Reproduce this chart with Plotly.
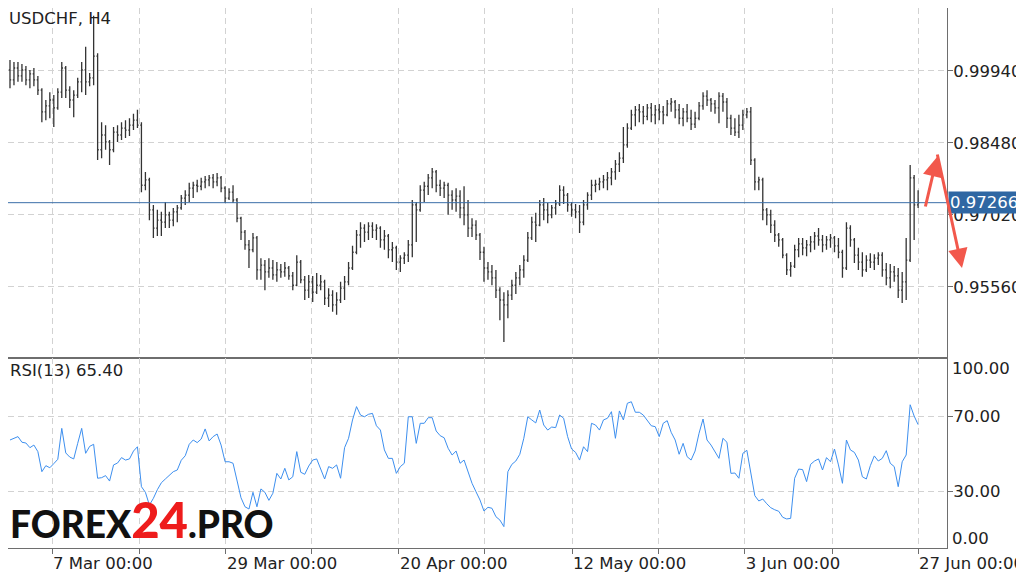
"""USDCHF H4 chart with RSI(13) panel"""

import plotly.graph_objects as go

# H4 bars (oldest first)
opens = [
    0.9996, 0.9976, 1.0000, 0.9984, 0.9996, 0.9976, 0.9988, 0.9976, 0.9955, 0.9911,
    0.9923, 0.9935, 0.9919, 0.9951, 1.0000, 0.9955, 0.9935, 0.9945, 0.9972, 0.9996,
    0.9972, 0.9980, 1.0024, 0.9834, 0.9864, 0.9850, 0.9834, 0.9870, 0.9864, 0.9878,
    0.9874, 0.9884, 0.9894, 0.9884, 0.9762, 0.9773, 0.9712, 0.9675, 0.9691, 0.9687,
    0.9702, 0.9691, 0.9708, 0.9716, 0.9736, 0.9742, 0.9756, 0.9762, 0.9760, 0.9769,
    0.9773, 0.9777, 0.9769, 0.9777, 0.9756, 0.9736, 0.9748, 0.9732, 0.9695, 0.9667,
    0.9641, 0.9631, 0.9655, 0.9590, 0.9600, 0.9586, 0.9594, 0.9580, 0.9590, 0.9586,
    0.9594, 0.9578, 0.9559, 0.9606, 0.9570, 0.9549, 0.9566, 0.9545, 0.9559, 0.9566,
    0.9533, 0.9539, 0.9519, 0.9529, 0.9553, 0.9566, 0.9594, 0.9626, 0.9661, 0.9675,
    0.9667, 0.9679, 0.9671, 0.9675, 0.9651, 0.9659, 0.9631, 0.9635, 0.9606, 0.9614,
    0.9620, 0.9641, 0.9722, 0.9712, 0.9752, 0.9760, 0.9777, 0.9789, 0.9762, 0.9756,
    0.9762, 0.9742, 0.9732, 0.9740, 0.9716, 0.9702, 0.9675, 0.9681, 0.9661, 0.9626,
    0.9594, 0.9586, 0.9574, 0.9549, 0.9529, 0.9519, 0.9539, 0.9559, 0.9574, 0.9590,
    0.9610, 0.9655, 0.9687, 0.9681, 0.9722, 0.9712, 0.9702, 0.9716, 0.9724, 0.9752,
    0.9742, 0.9722, 0.9712, 0.9708, 0.9687, 0.9722, 0.9742, 0.9762, 0.9764, 0.9769,
    0.9773, 0.9777, 0.9789, 0.9805, 0.9817, 0.9844, 0.9878, 0.9905, 0.9915, 0.9911,
    0.9902, 0.9919, 0.9905, 0.9915, 0.9911, 0.9905, 0.9927, 0.9931, 0.9915, 0.9898,
    0.9911, 0.9898, 0.9886, 0.9898, 0.9923, 0.9943, 0.9935, 0.9927, 0.9919, 0.9943,
    0.9931, 0.9898, 0.9878, 0.9870, 0.9884, 0.9905, 0.9911, 0.9813, 0.9769, 0.9773,
    0.9712, 0.9702, 0.9681, 0.9661, 0.9651, 0.9620, 0.9590, 0.9598, 0.9631, 0.9643,
    0.9635, 0.9641, 0.9647, 0.9659, 0.9651, 0.9641, 0.9651, 0.9655, 0.9639, 0.9626,
    0.9594, 0.9675, 0.9651, 0.9620, 0.9606, 0.9590, 0.9610, 0.9606, 0.9614, 0.9620,
    0.9590, 0.9574, 0.9586, 0.9578, 0.9549, 0.9566, 0.9610, 0.9777, 0.9722,
]
highs = [
    1.0016, 1.0012, 1.0012, 1.0008, 1.0004, 0.9996, 1.0000, 0.9984, 0.9959, 0.9935,
    0.9951, 0.9945, 0.9959, 1.0012, 1.0004, 0.9963, 0.9955, 0.9980, 1.0012, 1.0043,
    0.9990, 1.0106, 1.0030, 0.9890, 0.9884, 0.9854, 0.9880, 0.9884, 0.9890, 0.9894,
    0.9898, 0.9907, 0.9915, 0.9890, 0.9789, 0.9777, 0.9722, 0.9712, 0.9708, 0.9728,
    0.9708, 0.9716, 0.9722, 0.9742, 0.9752, 0.9767, 0.9769, 0.9773, 0.9777, 0.9781,
    0.9783, 0.9785, 0.9787, 0.9781, 0.9760, 0.9756, 0.9762, 0.9736, 0.9698, 0.9671,
    0.9651, 0.9665, 0.9659, 0.9614, 0.9610, 0.9614, 0.9610, 0.9606, 0.9602, 0.9606,
    0.9598, 0.9586, 0.9620, 0.9610, 0.9578, 0.9580, 0.9578, 0.9584, 0.9580, 0.9570,
    0.9553, 0.9549, 0.9545, 0.9566, 0.9578, 0.9606, 0.9639, 0.9671, 0.9687, 0.9683,
    0.9687, 0.9687, 0.9683, 0.9679, 0.9671, 0.9663, 0.9647, 0.9639, 0.9620, 0.9626,
    0.9651, 0.9732, 0.9728, 0.9762, 0.9769, 0.9785, 0.9797, 0.9793, 0.9773, 0.9769,
    0.9767, 0.9752, 0.9756, 0.9752, 0.9760, 0.9732, 0.9695, 0.9691, 0.9665, 0.9637,
    0.9606, 0.9600, 0.9590, 0.9555, 0.9545, 0.9549, 0.9570, 0.9586, 0.9600, 0.9620,
    0.9667, 0.9698, 0.9706, 0.9732, 0.9736, 0.9726, 0.9722, 0.9732, 0.9762, 0.9760,
    0.9746, 0.9728, 0.9724, 0.9722, 0.9732, 0.9748, 0.9773, 0.9773, 0.9777, 0.9783,
    0.9789, 0.9797, 0.9813, 0.9829, 0.9880, 0.9888, 0.9915, 0.9923, 0.9927, 0.9923,
    0.9927, 0.9929, 0.9925, 0.9927, 0.9923, 0.9935, 0.9939, 0.9935, 0.9927, 0.9919,
    0.9927, 0.9915, 0.9911, 0.9931, 0.9951, 0.9955, 0.9939, 0.9935, 0.9951, 0.9949,
    0.9939, 0.9905, 0.9898, 0.9905, 0.9915, 0.9919, 0.9921, 0.9817, 0.9779, 0.9777,
    0.9716, 0.9712, 0.9691, 0.9665, 0.9655, 0.9624, 0.9606, 0.9641, 0.9655, 0.9655,
    0.9651, 0.9659, 0.9667, 0.9675, 0.9661, 0.9659, 0.9663, 0.9659, 0.9655, 0.9631,
    0.9687, 0.9681, 0.9655, 0.9635, 0.9626, 0.9620, 0.9624, 0.9622, 0.9626, 0.9626,
    0.9604, 0.9602, 0.9598, 0.9594, 0.9586, 0.9655, 0.9803, 0.9783, 0.9752,
]
lows = [
    0.9959, 0.9965, 0.9972, 0.9972, 0.9965, 0.9959, 0.9963, 0.9945, 0.9890, 0.9894,
    0.9898, 0.9880, 0.9915, 0.9939, 0.9939, 0.9919, 0.9900, 0.9939, 0.9951, 0.9945,
    0.9963, 0.9965, 0.9813, 0.9817, 0.9834, 0.9803, 0.9829, 0.9850, 0.9854, 0.9858,
    0.9862, 0.9874, 0.9878, 0.9748, 0.9752, 0.9691, 0.9655, 0.9659, 0.9659, 0.9675,
    0.9675, 0.9679, 0.9687, 0.9712, 0.9722, 0.9728, 0.9736, 0.9748, 0.9752, 0.9756,
    0.9760, 0.9756, 0.9760, 0.9748, 0.9726, 0.9732, 0.9726, 0.9687, 0.9651, 0.9631,
    0.9594, 0.9626, 0.9570, 0.9570, 0.9549, 0.9574, 0.9570, 0.9566, 0.9574, 0.9576,
    0.9570, 0.9549, 0.9557, 0.9563, 0.9529, 0.9533, 0.9525, 0.9541, 0.9549, 0.9519,
    0.9515, 0.9505, 0.9499, 0.9523, 0.9529, 0.9559, 0.9590, 0.9622, 0.9635, 0.9647,
    0.9651, 0.9655, 0.9651, 0.9635, 0.9631, 0.9614, 0.9606, 0.9590, 0.9586, 0.9602,
    0.9606, 0.9616, 0.9647, 0.9708, 0.9728, 0.9742, 0.9756, 0.9748, 0.9740, 0.9736,
    0.9702, 0.9712, 0.9708, 0.9695, 0.9681, 0.9657, 0.9657, 0.9651, 0.9610, 0.9566,
    0.9570, 0.9559, 0.9533, 0.9488, 0.9444, 0.9492, 0.9529, 0.9541, 0.9559, 0.9574,
    0.9606, 0.9651, 0.9647, 0.9679, 0.9691, 0.9685, 0.9695, 0.9702, 0.9720, 0.9724,
    0.9708, 0.9698, 0.9695, 0.9665, 0.9681, 0.9712, 0.9732, 0.9748, 0.9752, 0.9756,
    0.9752, 0.9762, 0.9773, 0.9789, 0.9807, 0.9838, 0.9874, 0.9882, 0.9890, 0.9886,
    0.9894, 0.9890, 0.9886, 0.9894, 0.9886, 0.9902, 0.9911, 0.9898, 0.9886, 0.9882,
    0.9890, 0.9874, 0.9878, 0.9894, 0.9915, 0.9923, 0.9911, 0.9907, 0.9888, 0.9911,
    0.9878, 0.9864, 0.9862, 0.9858, 0.9874, 0.9898, 0.9803, 0.9752, 0.9752, 0.9691,
    0.9681, 0.9665, 0.9647, 0.9637, 0.9614, 0.9580, 0.9576, 0.9594, 0.9616, 0.9620,
    0.9618, 0.9626, 0.9631, 0.9639, 0.9626, 0.9631, 0.9635, 0.9626, 0.9614, 0.9574,
    0.9590, 0.9637, 0.9604, 0.9590, 0.9576, 0.9586, 0.9594, 0.9590, 0.9600, 0.9576,
    0.9559, 0.9553, 0.9566, 0.9533, 0.9523, 0.9529, 0.9606, 0.9651, 0.9716,
]
closes = [
    0.9976, 1.0000, 0.9984, 0.9996, 0.9976, 0.9988, 0.9976, 0.9955, 0.9911, 0.9923,
    0.9935, 0.9919, 0.9951, 1.0000, 0.9955, 0.9935, 0.9945, 0.9972, 0.9996, 0.9972,
    0.9980, 1.0024, 0.9834, 0.9864, 0.9850, 0.9834, 0.9870, 0.9864, 0.9878, 0.9874,
    0.9884, 0.9894, 0.9884, 0.9762, 0.9773, 0.9712, 0.9675, 0.9691, 0.9687, 0.9702,
    0.9691, 0.9708, 0.9716, 0.9736, 0.9742, 0.9756, 0.9762, 0.9760, 0.9769, 0.9773,
    0.9777, 0.9769, 0.9777, 0.9756, 0.9736, 0.9748, 0.9732, 0.9695, 0.9667, 0.9641,
    0.9631, 0.9655, 0.9590, 0.9600, 0.9586, 0.9594, 0.9580, 0.9590, 0.9586, 0.9594,
    0.9578, 0.9559, 0.9606, 0.9570, 0.9549, 0.9566, 0.9545, 0.9559, 0.9566, 0.9533,
    0.9539, 0.9519, 0.9529, 0.9553, 0.9566, 0.9594, 0.9626, 0.9661, 0.9675, 0.9667,
    0.9679, 0.9671, 0.9675, 0.9651, 0.9659, 0.9631, 0.9635, 0.9606, 0.9614, 0.9620,
    0.9641, 0.9722, 0.9712, 0.9752, 0.9760, 0.9777, 0.9789, 0.9762, 0.9756, 0.9762,
    0.9742, 0.9732, 0.9740, 0.9716, 0.9702, 0.9675, 0.9681, 0.9661, 0.9626, 0.9594,
    0.9586, 0.9574, 0.9549, 0.9529, 0.9519, 0.9539, 0.9559, 0.9574, 0.9590, 0.9610,
    0.9655, 0.9687, 0.9681, 0.9722, 0.9712, 0.9702, 0.9716, 0.9724, 0.9752, 0.9742,
    0.9722, 0.9712, 0.9708, 0.9687, 0.9722, 0.9742, 0.9762, 0.9764, 0.9769, 0.9773,
    0.9777, 0.9789, 0.9805, 0.9817, 0.9844, 0.9878, 0.9905, 0.9915, 0.9911, 0.9902,
    0.9919, 0.9905, 0.9915, 0.9911, 0.9905, 0.9927, 0.9931, 0.9915, 0.9898, 0.9911,
    0.9898, 0.9886, 0.9898, 0.9923, 0.9943, 0.9935, 0.9927, 0.9919, 0.9943, 0.9931,
    0.9898, 0.9878, 0.9870, 0.9884, 0.9905, 0.9911, 0.9813, 0.9769, 0.9773, 0.9712,
    0.9702, 0.9681, 0.9661, 0.9651, 0.9620, 0.9590, 0.9598, 0.9631, 0.9643, 0.9635,
    0.9641, 0.9647, 0.9659, 0.9651, 0.9641, 0.9651, 0.9655, 0.9639, 0.9626, 0.9594,
    0.9675, 0.9651, 0.9620, 0.9606, 0.9590, 0.9610, 0.9606, 0.9614, 0.9620, 0.9590,
    0.9574, 0.9586, 0.9578, 0.9549, 0.9566, 0.9610, 0.9777, 0.9722, 0.97266,
]

# RSI(13), one value per bar
rsi = [
    57.2, 58.1, 59.0, 56.0, 55.6, 53.1, 54.5, 51.0, 40.3, 43.5,
    42.4, 44.6, 46.9, 63.4, 50.3, 48.1, 47.1, 55.4, 63.4, 50.1,
    53.8, 54.9, 36.8, 37.1, 38.2, 35.3, 43.9, 44.9, 47.8, 46.5,
    47.1, 51.3, 53.6, 32.3, 29.3, 22.5, 26.1, 30.7, 34.4, 36.4,
    38.2, 40.3, 41.2, 46.4, 48.8, 54.9, 57.2, 55.8, 57.7, 63.1,
    56.7, 59.0, 60.4, 54.5, 45.6, 45.6, 44.8, 35.3, 26.4, 21.6,
    20.4, 29.3, 21.6, 31.1, 29.3, 25.0, 28.8, 39.4, 36.4, 42.1,
    35.9, 37.6, 51.0, 40.0, 38.9, 43.3, 46.5, 47.1, 41.2, 36.4,
    43.0, 42.1, 43.9, 36.8, 53.1, 58.1, 67.9, 75.0, 70.5, 69.6,
    70.9, 71.4, 64.8, 62.5, 51.9, 47.4, 47.4, 39.4, 43.0, 44.8,
    69.6, 69.6, 55.4, 66.1, 66.1, 69.1, 69.1, 62.0, 59.5, 58.4,
    52.8, 49.2, 51.3, 44.8, 46.5, 40.3, 34.1, 29.6, 25.2, 19.3,
    21.3, 20.8, 16.3, 14.5, 11.0, 40.3, 44.2, 46.0, 49.6, 58.1,
    69.6, 67.9, 66.3, 73.2, 65.2, 62.5, 64.1, 63.8, 70.5, 68.8,
    59.0, 52.4, 50.6, 46.5, 53.6, 51.0, 66.1, 65.2, 62.5, 67.9,
    68.8, 72.3, 58.1, 72.7, 67.9, 76.8, 77.6, 72.0, 72.0, 70.5,
    67.9, 64.8, 64.3, 59.0, 66.1, 67.5, 61.3, 57.2, 49.6, 55.4,
    48.3, 46.5, 51.3, 60.8, 68.4, 57.2, 54.5, 51.0, 47.4, 58.1,
    56.0, 39.4, 39.6, 36.8, 50.1, 51.7, 40.3, 27.5, 24.7, 25.7,
    23.2, 21.1, 20.0, 19.2, 16.0, 15.1, 15.4, 36.8, 41.7, 41.4,
    35.0, 44.2, 46.0, 47.1, 41.2, 47.8, 45.6, 52.4, 43.9, 34.1,
    57.2, 51.9, 50.6, 46.5, 37.6, 36.4, 43.5, 48.7, 46.0, 47.4,
    51.5, 44.8, 43.0, 32.3, 45.6, 49.2, 76.0, 70.0, 65.4,
]

# date grid: bar position of each vertical grid line and its label
grid_bars = [10.55, 32.39, 54.23, 75.82, 97.66, 119.25, 141.1, 162.9, 184.5, 206.4, 228.0]
grid_labels = ['7 Mar 00:00', '', '29 Mar 00:00', '', '20 Apr 00:00', '',
               '12 May 00:00', '', '3 Jun 00:00', '', '27 Jun 00:00']

price_ticks = [0.95560, 0.97020, 0.98480, 0.99940]
rsi_levels = [30, 70]

bars = list(range(len(closes)))

GRID = '#d2d2d2'
FRAME = '#6e6e6e'
TXT = '#222222'
SPLIT = 0.35185  # boundary between panels (paper fraction)

fig = go.Figure()

fig.add_trace(go.Ohlc(
    x=bars, open=opens, high=highs, low=lows, close=closes,
    increasing=dict(line=dict(color='#333333', width=1.3)),
    decreasing=dict(line=dict(color='#333333', width=1.3)),
    tickwidth=0.3,
    xaxis='x', yaxis='y',
    hoverinfo='skip',
))

fig.add_trace(go.Scatter(
    x=bars, y=rsi, mode='lines',
    line=dict(color='#3d8fef', width=1),
    xaxis='x2', yaxis='y2',
    hoverinfo='skip',
))

axis_common = dict(
    showgrid=True, gridcolor=GRID, griddash='6px,4px', gridwidth=1,
    showline=True, linecolor=FRAME, linewidth=1, mirror=True,
    zeroline=False,
)

# the page body has an 8px margin, so the figure is sized 8px smaller each way
fig.update_layout(
    width=1016, height=569,
    margin=dict(l=0, r=77, t=0, b=29),
    paper_bgcolor='white', plot_bgcolor='white',
    font=dict(family='DejaVu Sans', size=16.5, color=TXT),
    showlegend=False,
    xaxis=dict(
        axis_common, domain=[0, 1], anchor='y', range=[-0.5, 235.25],
        tickvals=grid_bars, showticklabels=False, ticks='',
        rangeslider=dict(visible=False),
    ),
    xaxis2=dict(
        axis_common, domain=[0, 1], anchor='y2', matches='x',
        tickvals=grid_bars, ticktext=grid_labels,
        ticks='outside', ticklen=5, tickcolor=FRAME,
        ticklabelposition='outside right', ticklabeloverflow='allow',
    ),
    yaxis=dict(
        axis_common, domain=[SPLIT, 1], anchor='x', side='right',
        range=[0.94113, 1.01218],
        tickvals=price_ticks, tickformat='.5f',
        ticks='outside', ticklen=5, tickcolor=FRAME, ticklabelstandoff=-3,
    ),
    yaxis2=dict(
        axis_common, domain=[0, SPLIT], anchor='x2', side='right',
        range=[-0.4, 100.93],
        tickvals=rsi_levels, tickformat='.2f',
        ticks='outside', ticklen=5, tickcolor=FRAME, ticklabelstandoff=-3,
    ),
)

# current price line and label
last = closes[-1]
fig.add_shape(type='line', xref='paper', x0=0, x1=1, yref='y', y0=last, y1=last,
              line=dict(color='#3a6ea8', width=1))
fig.add_annotation(x=1, xref='paper', xanchor='left', y=last, yref='y', yanchor='middle',
                   text=f'{last:.5f}', showarrow=False, xshift=1,
                   bgcolor='#2f67a3', borderpad=1,
                   font=dict(color='white', size=16.5))

# panel captions
fig.add_annotation(x=0, y=1, xref='paper', yref='paper', xanchor='left', yanchor='top',
                   text='USDCHF, H4', showarrow=False, xshift=-1, yshift=1)
fig.add_annotation(x=0, y=SPLIT, xref='paper', yref='paper', xanchor='left', yanchor='top',
                   text=f'RSI(13) {rsi[-1]:.2f}', showarrow=False, yshift=-1)

# RSI scale ends
fig.add_annotation(x=1, y=0.3315, xref='paper', yref='paper', xanchor='left', yanchor='middle',
                   text='100.00', showarrow=False, xshift=3)
fig.add_annotation(x=1, y=0.0185, xref='paper', yref='paper', xanchor='left', yanchor='middle',
                   text='0.00', showarrow=False, xshift=3)

# forecast arrows
ARROW = '#f2584c'
fig.add_annotation(x=0.9894, y=0.7241, xref='paper', yref='paper', ax=-12, ay=51,
                   text='', showarrow=True, arrowhead=2, arrowsize=1.3, arrowwidth=3,
                   arrowcolor=ARROW)
fig.add_annotation(x=1.016, y=0.5185, xref='paper', yref='paper', ax=-25, ay=-115,
                   text='', showarrow=True, arrowhead=2, arrowsize=1.3, arrowwidth=3,
                   arrowcolor=ARROW)

# watermark
fig.add_annotation(
    x=0, y=0.013, xref='paper', yref='paper', xanchor='left', yanchor='bottom',
    text="FOREX<span style='color:#ee1c1c;font-size:49px'>24</span>.PRO",
    showarrow=False, yshift=-9,
    font=dict(family='Lato', size=37, weight=900, color='#111111'),
)

fig.write_html("out.html")
